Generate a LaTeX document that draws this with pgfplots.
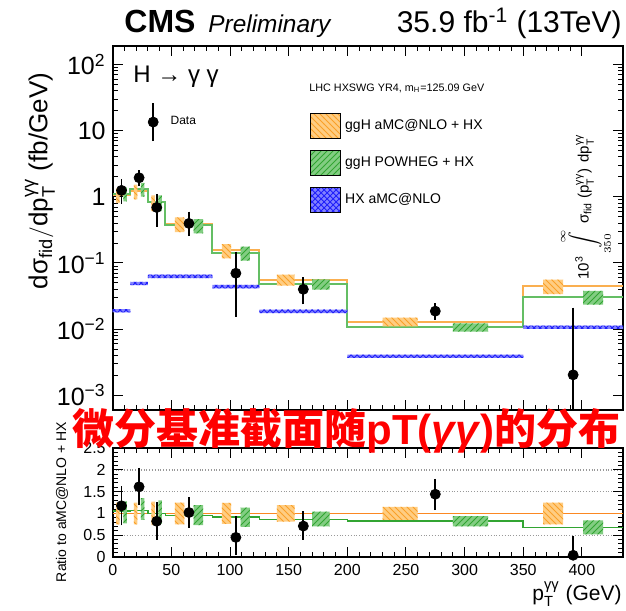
\documentclass[border=0pt]{standalone}
\usepackage{amsmath}
\usepackage{fontspec}
\setmainfont{Liberation Sans}
\newfontfamily\cjk{Noto Sans CJK SC}
\usepackage{pgfplots}
\usepackage{pgfplotstable}
\pgfplotsset{compat=1.18}
\usetikzlibrary{patterns}

\definecolor{corange}{RGB}{250,160,40}
\definecolor{corangeL}{RGB}{255,205,130}
\definecolor{cgreen}{RGB}{50,165,50}
\definecolor{cgreenL}{RGB}{130,205,130}
\definecolor{cblue}{RGB}{30,30,250}
\definecolor{cblueL}{RGB}{130,130,255}
\definecolor{olineTop}{RGB}{250,175,80}
\definecolor{glineTop}{RGB}{100,190,100}

\tikzset{
  obox/.style={fill=corangeL, draw=none, postaction={pattern=north west lines, pattern color=corange}},
  gbox/.style={fill=cgreenL, draw=none, postaction={pattern=north east lines, pattern color=cgreen}},
  hxbox/.style={fill=cblueL, draw=none, postaction={pattern=crosshatch, pattern color=cblue}},
}
\newcommand{\fs}[1]{\fontsize{#1}{#1}\selectfont}

\pgfplotstableread{
x y ep em
7.5 1.25 0.42 0.39
22.5 1.94 0.36 0.34
37.5 0.69 0.31 0.30
65 0.396 0.144 0.116
105 0.070 0.065 0.053
162.5 0.040 0.015 0.014
275 0.0187 0.0035 0.0035
392.5 0.00204 0.0171 0.00199
}\datatop
\pgfplotstableread{
x y ep em
7.5 1.175 0.385 0.385
22.5 1.61 0.37 0.36
37.5 0.82 0.37 0.36
65 1.02 0.29 0.29
105 0.45 0.43 0.335
162.5 0.71 0.27 0.25
275 1.44 0.29 0.30
392.5 0.04 0.38 0.10
}\dataratio

\begin{document}
\begin{tikzpicture}
\path[use as bounding box] (0pt,0pt) rectangle (313pt,-305pt);

% ---------- top panel ----------
\begin{axis}[
  at={(56.35pt,-23pt)}, anchor=north west,
  width=255.15pt, height=182pt, scale only axis,
  xmin=0, xmax=435, ymode=log, ymin=6e-4, ymax=190,
  xtick={0,50,...,400}, minor x tick num=4, xticklabels={},
  ytick={1e-3,1e-2,1e-1,1,10,100},
  yticklabels={10\textsuperscript{−3},10\textsuperscript{−2},10\textsuperscript{−1},1,10,10\textsuperscript{2}},
  tick align=inside,
  major tick length=5pt, minor tick length=2.5pt,
  tick style={black, line width=0.5pt},
  axis line style={line width=0.8pt},
  yticklabel style={font=\fs{12.5}},
  unbounded coords=jump,
  legend style={at={(0.068,0.791)}, anchor=west, draw=none, fill=none, inner sep=0pt, font=\fs{6}, column sep=4pt},
]
\addplot[const plot, olineTop, line width=1pt, forget plot] coordinates {(0,1.07)(15,1.22)(30,0.83)(45,0.39)(85,0.155)(125,0.056)(200,0.013)(350,0.045)(435,0.045)};
\addplot[const plot, glineTop, line width=1pt, forget plot] coordinates {(0,1.12)(15,1.31)(30,0.83)(45,0.37)(85,0.143)(125,0.048)(200,0.0107)(350,0.0306)(435,0.0306)};
\addplot[hxbox, forget plot] coordinates {
(0,0.01786)(15,0.01786)(15,0.02014)(0,0.02014)(nan,nan)
(15,0.0461)(30,0.0461)(30,0.0519)(15,0.0519)(nan,nan)
(30,0.0592)(85,0.0592)(85,0.0668)(30,0.0668)(nan,nan)
(85,0.0414)(125,0.0414)(125,0.0466)(85,0.0466)(nan,nan)
(125,0.01748)(200,0.01748)(200,0.01972)(125,0.01972)(nan,nan)
(200,0.00367)(350,0.00367)(350,0.00413)(200,0.00413)(nan,nan)
(350,0.01006)(435,0.01006)(435,0.01134)(350,0.01134)
};
\addplot[obox, forget plot] coordinates {
(3,0.8025)(6,0.8025)(6,1.3375)(3,1.3375)(nan,nan)
(18,0.915)(21,0.915)(21,1.525)(18,1.525)(nan,nan)
(33,0.606)(36,0.606)(36,1.054)(33,1.054)(nan,nan)
(53,0.2925)(61,0.2925)(61,0.4875)(53,0.4875)(nan,nan)
(93,0.1178)(101,0.1178)(101,0.1922)(93,0.1922)(nan,nan)
(140,0.04536)(155,0.04536)(155,0.06664)(140,0.06664)(nan,nan)
(230,0.01105)(260,0.01105)(260,0.01495)(230,0.01495)(nan,nan)
(367,0.03375)(384,0.03375)(384,0.05625)(367,0.05625)
};
\addplot[gbox, forget plot] coordinates {
(9,0.853)(12,0.853)(12,1.387)(9,1.387)(nan,nan)
(24,1.003)(27,1.003)(27,1.617)(24,1.617)(nan,nan)
(39,0.606)(42,0.606)(42,1.054)(39,1.054)(nan,nan)
(69,0.280)(77,0.280)(77,0.460)(69,0.460)(nan,nan)
(109,0.1088)(117,0.1088)(117,0.1772)(109,0.1772)(nan,nan)
(170,0.0396)(185,0.0396)(185,0.0564)(170,0.0564)(nan,nan)
(290,0.00914)(320,0.00914)(320,0.01226)(290,0.01226)(nan,nan)
(401,0.0234)(418,0.0234)(418,0.0378)(401,0.0378)
};
\addplot[only marks, mark=*, mark size=2.5pt, black,
  legend image code/.code={\draw[black,line width=0.9pt] (0pt,-9.5pt)--(0pt,9.5pt); \fill[black] (0pt,0pt) circle (2.5pt);},
  error bars/.cd, y dir=both, y explicit,
  error bar style={line width=0.9pt, black},
  error mark options={line width=0.9pt, black, mark size=1.4pt}]
  table[x=x, y=y, y error plus=ep, y error minus=em] {\datatop};
\addlegendentry{Data}
\end{axis}

% ---------- prediction legend ----------
\begin{axis}[
  at={(56.35pt,-23pt)}, anchor=north west,
  width=255.15pt, height=182pt, scale only axis, hide axis,
  xmin=0, xmax=1, ymin=0, ymax=1,
  legend cell align=left,
  legend style={at={(0.3866,0.816)}, anchor=north west, draw=none, fill=none, inner sep=0pt, font=\fs{7}, row sep=5.5pt, column sep=0pt},
]
\addlegendimage{legend image code/.code={\fill[obox] (0pt,-6.25pt) rectangle (15pt,6.25pt);}}
\addlegendentry{ggH aMC@NLO + HX}
\addlegendimage{legend image code/.code={\fill[gbox] (0pt,-6.25pt) rectangle (15pt,6.25pt);}}
\addlegendentry{ggH POWHEG + HX}
\addlegendimage{legend image code/.code={\fill[hxbox] (0pt,-6.25pt) rectangle (15pt,6.25pt);}}
\addlegendentry{HX aMC@NLO}
\end{axis}

% ---------- ratio panel ----------
\begin{axis}[
  at={(56.35pt,-224pt)}, anchor=north west,
  width=255.15pt, height=54.5pt, scale only axis,
  xmin=0, xmax=435, ymin=0, ymax=2.5,
  xtick={0,50,...,400}, xticklabels={0,50,100,150,200,250,300,350,400}, minor x tick num=4,
  ytick={0,0.5,1,1.5,2,2.5}, yticklabels={0,0.5,1,1.5,2,2.5}, minor y tick num=4,
  ymajorgrids, major grid style={densely dotted, gray!80, line width=0.7pt},
  tick align=inside, major tick length=5pt, minor tick length=2.5pt,
  tick style={black, line width=0.5pt},
  tick label style={font=\fs{8}},
  axis line style={line width=0.8pt},
  unbounded coords=jump,
]
\addplot[corange!85!red, line width=0.8pt, forget plot] coordinates {(0,1)(435,1)};
\addplot[const plot, cgreen, line width=0.8pt, forget plot] coordinates {(0,1.05)(15,1.07)(30,1.0)(45,0.95)(85,0.92)(125,0.86)(200,0.82)(350,0.68)(435,0.68)};
\addplot[obox, forget plot] coordinates {
(3,0.75)(6,0.75)(6,1.25)(3,1.25)(nan,nan)
(18,0.75)(21,0.75)(21,1.25)(18,1.25)(nan,nan)
(33,0.73)(36,0.73)(36,1.27)(33,1.27)(nan,nan)
(53,0.75)(61,0.75)(61,1.25)(53,1.25)(nan,nan)
(93,0.76)(101,0.76)(101,1.24)(93,1.24)(nan,nan)
(140,0.81)(155,0.81)(155,1.19)(140,1.19)(nan,nan)
(230,0.85)(260,0.85)(260,1.15)(230,1.15)(nan,nan)
(367,0.75)(384,0.75)(384,1.25)(367,1.25)
};
\addplot[gbox, forget plot] coordinates {
(9,0.77)(12,0.77)(12,1.27)(9,1.27)(nan,nan)
(24,0.85)(27,0.85)(27,1.35)(24,1.35)(nan,nan)
(39,0.76)(42,0.76)(42,1.30)(39,1.30)(nan,nan)
(69,0.73)(77,0.73)(77,1.19)(69,1.19)(nan,nan)
(109,0.69)(117,0.69)(117,1.13)(109,1.13)(nan,nan)
(170,0.70)(185,0.70)(185,1.04)(170,1.04)(nan,nan)
(290,0.70)(320,0.70)(320,0.94)(290,0.94)(nan,nan)
(401,0.52)(418,0.52)(418,0.84)(401,0.84)
};
\addplot[only marks, mark=*, mark size=2.5pt, black, forget plot,
  error bars/.cd, y dir=both, y explicit,
  error bar style={line width=0.9pt, black},
  error mark options={line width=0.9pt, black, mark size=1.4pt}]
  table[x=x, y=y, y error plus=ep, y error minus=em] {\dataratio};
\end{axis}

% ---------- texts ----------
\node[anchor=base west, inner sep=0pt, font=\fs{16}\bfseries] at (62pt,-16.5pt) {CMS};
\node[anchor=base west, inner sep=0pt, font=\fs{12.2}\itshape] at (104pt,-16.5pt) {Preliminary};
\node[anchor=base east, inner sep=0pt, font=\fs{15}] at (311pt,-16.5pt) {35.9 fb\textsuperscript{-1} (13TeV)};
\node[anchor=base west, inner sep=0pt, font=\fs{12}] at (66.5pt,-41.5pt) {H → γ γ};
\node[anchor=base west, inner sep=0pt, font=\fs{5.4}] at (154.5pt,-45.5pt) {LHC HXSWG YR4, m\textsubscript{H}=125.09 GeV};
\node[rotate=90, inner sep=0pt, font=\fs{13}] at (20pt,-90.5pt) {$\text{dσ}_{\text{fid}}/\text{dp}_{\text{T}}^{\text{γγ}}$ (fb/GeV)};
\node[rotate=90, inner sep=0pt, font=\fs{7.5}] at (293pt,-103.5pt) {10\textsuperscript{3}\hspace{3pt}$\displaystyle\int\limits_{350}^{\infty}$\hspace{3pt}$\text{σ}_{\text{fid}}$\hspace{2pt}($\text{p}_{\text{T}}^{\text{γγ}}$)\hspace{3pt}$\text{dp}_{\text{T}}^{\text{γγ}}$};
\node[rotate=90, inner sep=0pt, font=\fs{7}] at (31pt,-251pt) {Ratio to aMC@NLO + HX};
\node[anchor=base east, inner sep=0pt, font=\fs{10.5}] at (311pt,-300pt) {$\text{p}_{\text{T}}^{\text{γγ}}$ (GeV)};
\node[inner sep=0pt, text=red, font=\fs{21}\bfseries] at (173.25pt,-215.5pt) {{\cjk 微分基准截面随}pT(\textit{γγ}){\cjk 的分布}};
\end{tikzpicture}
\end{document}
